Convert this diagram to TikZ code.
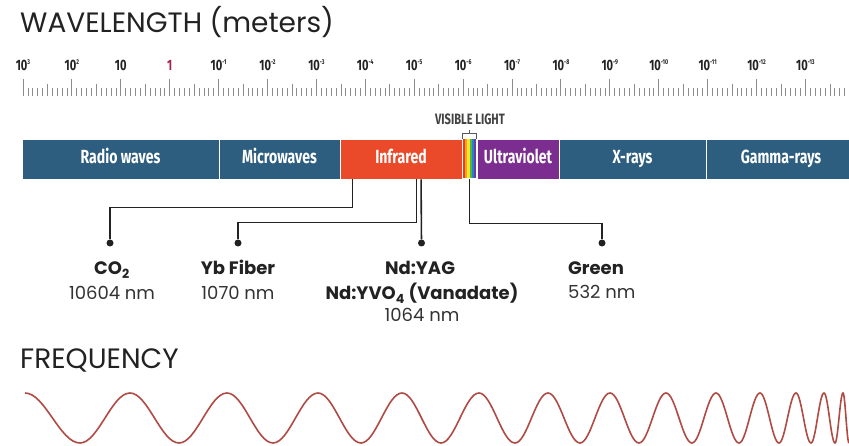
\documentclass[tikz,border=0pt]{standalone}
\usepackage{fontspec}
\setmainfont{Poppins}
\newfontfamily\condfont[FakeStretch=0.74]{Fira Sans}
\usetikzlibrary{positioning,calc}

\definecolor{emInk}{HTML}{222222}
\definecolor{emText}{HTML}{333333}
\definecolor{emBlue}{HTML}{2D5E80}
\definecolor{emRed}{HTML}{EA4A2A}
\definecolor{emViolet}{HTML}{7B2E8F}
\definecolor{emRule}{HTML}{8C8C8C}
\definecolor{emRuby}{HTML}{A32450}
\definecolor{emWave}{HTML}{B04A44}
\definecolor{vsRed}{HTML}{EE3B24}
\definecolor{vsOrange}{HTML}{F7A21B}
\definecolor{vsYellow}{HTML}{F4E62A}
\definecolor{vsGreen}{HTML}{4DB848}
\definecolor{vsBlue}{HTML}{2A7FD1}
\definecolor{vsViolet}{HTML}{6A3FA0}

\tikzset{
  band/.style      ={draw=white,line width=0.9pt,minimum height=40pt,inner sep=0pt,
                     text=white,text height=13pt,text depth=3pt,
                     font=\condfont\bfseries\fontsize{19}{19}\selectfont},
  rulemajor/.style ={emRule,line width=1pt},
  ruleminor/.style ={emRule,line width=0.7pt},
  rulelbl/.style   ={anchor=base,inner sep=0pt,text=emInk,
                     font=\condfont\bfseries\fontsize{15}{15}\selectfont},
  brace/.style     ={emInk!75,line width=0.8pt},
  vislbl/.style    ={anchor=base,inner sep=0pt,text=emInk!85,
                     font=\condfont\bfseries\fontsize{15}{15}\selectfont},
  lead/.style      ={emInk,line width=1.6pt},
  dotmark/.style   ={circle,fill=emInk,inner sep=0pt,minimum size=7pt},
  lasername/.style ={anchor=base,inner sep=0pt,text=emInk,
                     font=\bfseries\fontsize{18}{18}\selectfont},
  wlen/.style      ={anchor=base,inner sep=0pt,text=emText,
                     font=\fontsize{18}{18}\selectfont},
  headline/.style  ={anchor=base west,inner sep=0pt,text=emInk,
                     font=\fontsize{28}{28}\selectfont},
  wave/.style      ={emWave,line width=1.6pt},
}
\newcommand{\tenexp}[1]{10\raisebox{6pt}{\fontsize{7}{7}\selectfont#1}}

\begin{document}
\begin{tikzpicture}[x=1pt,y=-1pt]
\useasboundingbox[fill=white] (0,0) rectangle (849,446);

% headings
\node[headline] (wavehead) at (20,33) {WAVELENGTH (meters)};
\node[headline] (freqhead) at (20,368) {FREQUENCY};

% ruler
\foreach \i in {0,...,169}{
  \pgfmathtruncatemacro\r{mod(\i,10)}
  \ifnum\r=0
    \draw[rulemajor] ({23+4.89*\i},79) -- ++(0,17);
  \else\ifnum\r=5
    \draw[ruleminor] ({23+4.89*\i},84) -- ++(0,12);
  \else
    \draw[ruleminor] ({23+4.89*\i},88) -- ++(0,8);
  \fi\fi
}
\node[rulelbl] (lbl0) at (23,71) {\tenexp{3}};
\node[rulelbl] (lbl1) at (71.9,71) {\tenexp{2}};
\node[rulelbl] (lbl2) at (120.8,71) {10};
\node[rulelbl,text=emRuby] (lbl3) at (169.7,71) {1};
\foreach \e [count=\k from 4] in {-1,-2,...,-13}
  \node[rulelbl] (lbl\k) at ({23+48.9*\k},71) {\tenexp{\e}};

% spectrum band
\node[band,fill=emBlue,minimum width=197pt] (radio) at (120.5,159) {Radio waves};
\node[band,fill=emBlue,minimum width=121pt] (micro) at (279.5,159) {Microwaves};
\node[band,fill=emRed,minimum width=122pt] (infra) at (401,159) {Infrared};
\node[band,minimum width=15pt] (vis) at (469.5,159) {};
\node[band,fill=emViolet,minimum width=82pt] (uv) at (518,159) {Ultraviolet};
\node[band,fill=emBlue,minimum width=147pt] (xray) at (632.5,159) {X-rays};
\node[band,fill=emBlue,minimum width=150pt] (gamma) at (781,159) {Gamma-rays};
\foreach \c [count=\k from 0] in {vsRed,vsOrange,vsYellow,vsGreen,vsBlue,vsViolet}
  \fill[\c] ({463+2.2*\k},139.5) rectangle ++(2.2,39);

\draw[brace] ([xshift=1pt]vis.north west) -- ++(0,-5) -| ([xshift=-1pt]vis.north east);
\draw[brace] (vis.north) ++(0,-5) -- ++(0,-4);
\node[vislbl] (vistext) at (470,125) {VISIBLE LIGHT};

% lasers
\coordinate (co2top) at ($(infra.south west)+(13,0)$);
\coordinate (ybtop) at ($(infra.south west)+(77,0)$);
\coordinate (ndtop) at ($(infra.south west)+(81.5,0)$);
\node[dotmark] (co2dot) at (110,243) {};
\node[dotmark] (ybdot) at (238,243) {};
\node[dotmark] (nddot) at (421.5,243) {};
\node[dotmark] (grdot) at (602,243) {};
\draw[lead] (co2top) -- ++(0,28) -| (co2dot);
\draw[lead] (ybtop) -- ++(0,43) -| (ybdot);
\draw[lead] (ndtop) -- (nddot);
\draw[lead] (vis.south) -- ++(0,44) -| (grdot);

\node[lasername] (co2) at (112,275) {CO\textsubscript{2}};
\node[wlen] (co2nm) at (112,300) {10604 nm};
\node[lasername] (yb) at (238,275) {Yb Fiber};
\node[wlen] (ybnm) at (238,300) {1070 nm};
\node[lasername] (nd) at (420,275) {Nd:YAG};
\node[lasername] (ndvo) at (422,300) {Nd:YVO\textsubscript{4} (Vanadate)};
\node[wlen] (ndnm) at (422,322) {1064 nm};
\node[lasername,anchor=base west] (green) at (568,275) {Green};
\node[wlen,anchor=base west] (grnm) at (568,299) {532 nm};

% frequency wave
\draw[wave] (25,393) foreach \x [count=\k, remember=\x as \lx (initially 25),
    evaluate=\k as \yy using {418+25*(2*mod(\k,2)-1)}]
  in {80,130,179,227,273,318,361,402,441,479,515,548,580,610,639,666,692,
      716,739,760,779,796,811,824,835,843,849}
  { cos ({(\lx+\x)/2},418) sin (\x,\yy) };
\end{tikzpicture}
\end{document}
